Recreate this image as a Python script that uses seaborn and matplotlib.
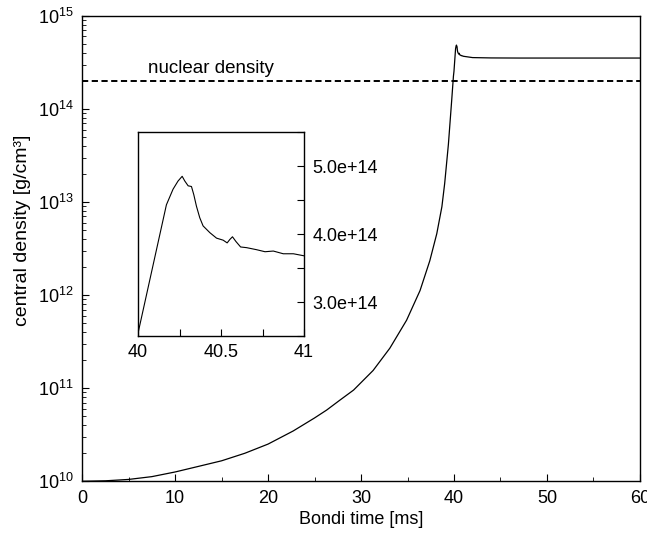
import numpy as np
import pandas as pd
import matplotlib
matplotlib.use("Agg")
import matplotlib.pyplot as plt
import seaborn as sns
from matplotlib.ticker import MultipleLocator, LogLocator, NullFormatter

# Bondi time [ms] and central density [g/cm^3]
time_ms = [0.0, 2.5, 5.0, 7.5, 10.0, 12.5, 15.0, 17.5, 20.0, 22.7, 25.0, 26.3,
           27.7, 29.2, 31.3, 33.1, 34.9, 36.35, 37.4, 38.15, 38.7, 39.0, 39.4,
           39.76, 39.94,
           40.0, 40.171, 40.211, 40.241, 40.266, 40.282, 40.302,
           40.322, 40.336, 40.352, 40.372, 40.392, 40.433, 40.473, 40.513,
           40.537, 40.553, 40.569, 40.59, 40.618, 40.654, 40.714, 40.765,
           40.815, 40.875, 40.936, 41.0,
           42.0, 44.0, 47.0, 50.0, 55.0, 60.0]
density = [1.0e10, 1.012e10, 1.047e10, 1.122e10, 1.259e10, 1.445e10, 1.66e10,
           2.0e10, 2.51e10, 3.47e10, 4.79e10, 5.82e10,
           7.41e10, 9.55e10, 1.55e11, 2.69e11, 5.37e11, 1.12e12, 2.34e12,
           4.57e12, 8.91e12, 1.585e13, 4.17e13,
           1.26e14, 2.24e14,
           2.54e14, 4.43e14, 4.66e14, 4.78e14, 4.85e14,
           4.78e14, 4.71e14, 4.70e14, 4.58e14, 4.41e14, 4.24e14, 4.12e14,
           4.02e14, 3.94e14, 3.91e14, 3.87e14, 3.92e14, 3.96e14, 3.89e14,
           3.81e14, 3.80e14, 3.77e14, 3.74e14, 3.75e14, 3.71e14, 3.71e14,
           3.68e14,
           3.56e14, 3.53e14, 3.52e14, 3.52e14, 3.52e14, 3.52e14]

nuclear_density = 2.0e14

inset_yticks = [3.0e14, 4.0e14, 5.0e14]
inset_ylabels = ["3.0e+14", "4.0e+14", "5.0e+14"]
inset_xticks = [40, 40.5, 41]
inset_xlabels = ["40", "40.5", "41"]

df = pd.DataFrame({"time": time_ms, "rho": density})

# Plot ........................................................................

sns.set_style("ticks")
plt.rcParams["font.family"] = ["Liberation Sans", "DejaVu Sans"]
plt.rcParams["mathtext.fontset"] = "custom"
plt.rcParams["mathtext.rm"] = "Liberation Sans"
plt.rcParams["xtick.direction"] = "in"
plt.rcParams["ytick.direction"] = "in"
for key in ["text.color", "axes.labelcolor", "axes.edgecolor", "xtick.color", "ytick.color"]:
    plt.rcParams[key] = "black"

fig = plt.figure(figsize = (6.47, 5.35), dpi = 100)
ax = fig.add_axes([0.127, 0.1004, 0.862, 0.870])

sns.lineplot(data = df, x = "time", y = "rho", ax = ax, color = "black",
             linewidth = 0.9, estimator = None, sort = False)
ax.axhline(nuclear_density, color = "black", linewidth = 1.4,
           linestyle = (0, (3.2, 1.8)))
ax.text(7.1, 2.2e14, "nuclear density", fontsize = 13.5, va = "bottom")

ax.set_yscale("log")
ax.set_xlim(0, 60)
ax.set_ylim(1e10, 1e15)
ax.xaxis.set_major_locator(MultipleLocator(10))
ax.xaxis.set_minor_locator(MultipleLocator(5))
ax.yaxis.set_major_locator(LogLocator(base = 10, numticks = 10))
ax.yaxis.set_minor_locator(LogLocator(base = 10, subs = np.arange(2, 10), numticks = 10))
ax.yaxis.set_minor_formatter(NullFormatter())
ax.tick_params(which = "major", length = 5, width = 0.8, labelsize = 13, pad = 6)
ax.tick_params(which = "minor", length = 3, width = 0.6)
ax.set_xlabel("Bondi time [ms]", fontsize = 13, labelpad = 3)
ax.set_ylabel("central density [g/cm³]", fontsize = 14)
ax.yaxis.set_label_coords(-0.092, 0.54)
for s in ax.spines.values():
    s.set_linewidth(1.0)

# Inset zoom on the bounce
axin = fig.add_axes([0.2133, 0.372, 0.2566, 0.381])
sns.lineplot(data = df, x = "time", y = "rho", ax = axin, color = "black",
             linewidth = 0.8, estimator = None, sort = False)
axin.set_xlim(40, 41)
axin.set_ylim(2.5e14, 5.5e14)
axin.set_xticks(inset_xticks)
axin.set_xticklabels(inset_xlabels)
axin.xaxis.set_minor_locator(MultipleLocator(0.25))
axin.yaxis.tick_right()
axin.set_yticks(inset_yticks)
axin.set_yticklabels(inset_ylabels)
axin.yaxis.set_minor_locator(MultipleLocator(0.5e14))
axin.tick_params(which = "major", length = 5, width = 0.8, labelsize = 13, pad = 6)
axin.tick_params(which = "minor", length = 5, width = 0.8)
axin.set_xlabel("")
axin.set_ylabel("")
for s in axin.spines.values():
    s.set_linewidth(1.0)

fig.savefig("out.png", dpi = 100)
